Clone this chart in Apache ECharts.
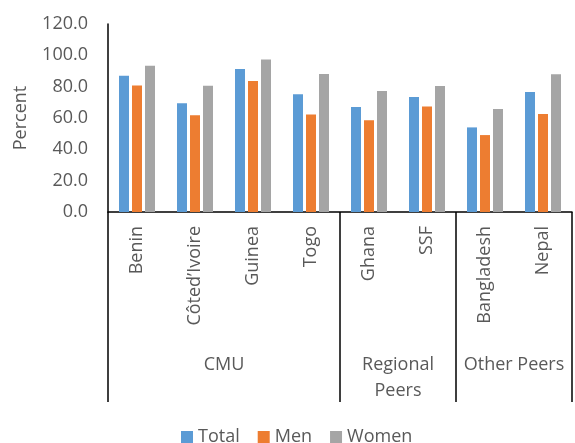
<!DOCTYPE html>
<html><head><meta charset="utf-8">
<script src="https://cdn.jsdelivr.net/npm/echarts@6/dist/echarts.min.js"></script>
<style>html,body{margin:0;padding:0;background:#fff}#c{width:575px;height:443px}</style>
</head><body><div id="c"></div>
<script>
const categories = ['Benin', 'Côted’Ivoire', 'Guinea', 'Togo', 'Ghana', 'SSF', 'Bangladesh', 'Nepal'];
const totalValues = [87.0, 69.4, 91.3, 75.1, 67.0, 73.4, 54.0, 76.6];
const menValues = [80.8, 61.7, 83.6, 62.3, 58.5, 67.4, 49.1, 62.6];
const womenValues = [93.4, 80.6, 97.4, 88.1, 77.2, 80.4, 65.7, 87.9];
const groupNames = ['CMU', 'Regional\nPeers', 'Other Peers'];
const groupStarts = [0, 4, 6];
const groupSizes = [4, 2, 2];
const yTicks = [0, 20, 40, 60, 80, 100, 120];

const groupCenters = {};
groupStarts.forEach((s, i) => { groupCenters[s + groupSizes[i] / 2] = groupNames[i]; });

const FONT = 'Open Sans';
const TXT = '#595959';
const chart = echarts.init(document.getElementById('c'));
chart.setOption({
  animation: false,
  textStyle: { fontFamily: FONT },
  grid: { left: 108, top: 24, bottom: 231, width: 472, containLabel: false },
  legend: {
    data: ['Total', 'Men', 'Women'],
    left: 176, top: 423,
    itemWidth: 12, itemHeight: 12, itemGap: 18, itemTextGap: 5,
    icon: 'rect',
    textStyle: { fontFamily: FONT, fontSize: 18, color: TXT }
  },
  xAxis: [
    {
      type: 'category', data: categories, boundaryGap: true,
      axisLine: { show: true, lineStyle: { color: '#000', width: 1.5 } },
      axisTick: {
        show: true, length: 190, inside: false,
        interval: (idx) => groupStarts.includes(idx),
        lineStyle: { color: '#000', width: 1.5 }
      },
      axisLabel: { rotate: 90, margin: 14, fontFamily: FONT, fontSize: 18, color: TXT, interval: 0 }
    },
    {
      type: 'value', min: 0, max: categories.length, interval: 1, position: 'bottom',
      axisLine: { show: false }, axisTick: { show: false }, splitLine: { show: false },
      axisLabel: {
        margin: 140, fontFamily: FONT, fontSize: 18, color: TXT, lineHeight: 26,
        showMinLabel: true, showMaxLabel: true,
        formatter: (v) => groupCenters[v] || ''
      }
    }
  ],
  yAxis: {
    type: 'value', min: yTicks[0], max: yTicks[yTicks.length - 1], interval: 20,
    name: 'Percent', nameLocation: 'middle', nameRotate: 90, nameGap: 78,
    nameTextStyle: { fontFamily: FONT, fontSize: 18, color: TXT },
    axisLine: { show: true, lineStyle: { color: '#000', width: 1.5 } },
    axisTick: { show: false },
    splitLine: { show: false },
    axisLabel: { margin: 20, fontFamily: FONT, fontSize: 18, color: TXT, formatter: (v) => v.toFixed(1) }
  },
  series: [
    { name: 'Total', type: 'bar', data: totalValues, barWidth: 10, barGap: '30%', itemStyle: { color: '#5B9BD5' } },
    { name: 'Men', type: 'bar', data: menValues, barWidth: 10, barGap: '30%', itemStyle: { color: '#ED7D31' } },
    { name: 'Women', type: 'bar', data: womenValues, barWidth: 10, barGap: '30%', itemStyle: { color: '#A5A5A5' } }
  ]
});
</script></body></html>
